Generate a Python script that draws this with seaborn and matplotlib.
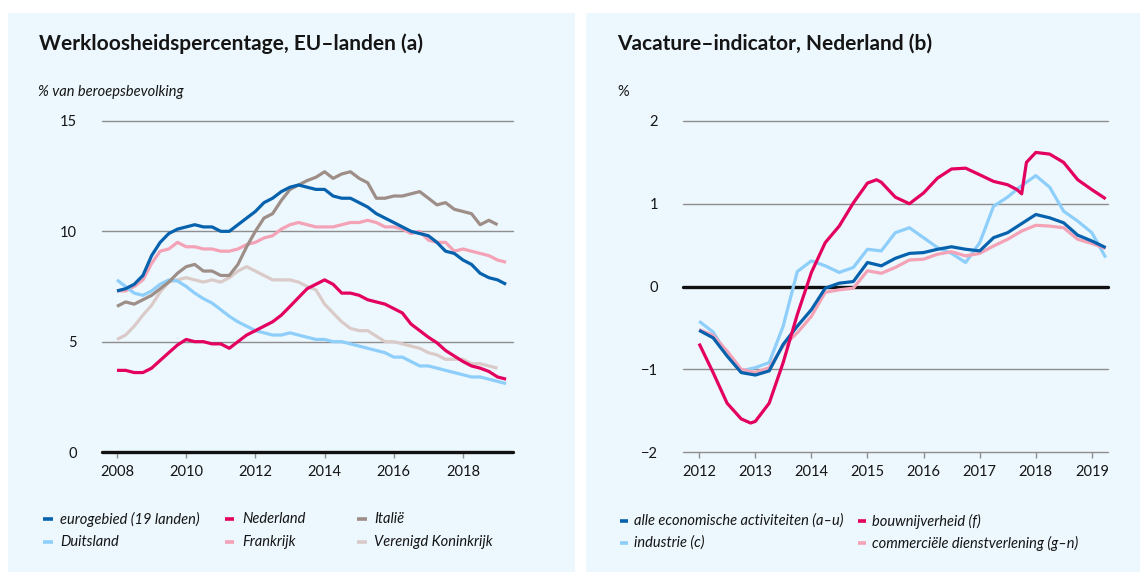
import numpy as np
import pandas as pd
import matplotlib
matplotlib.use("Agg")
import matplotlib.pyplot as plt
import matplotlib.dates as mdates
from matplotlib.lines import Line2D
from matplotlib.patches import Rectangle
import seaborn as sns

# ---------------------------------------------------------------- data
# (a) werkloosheid, % van beroepsbevolking, per kwartaal
kwartalen_eu = pd.date_range("2008-01-01", periods=46, freq="QS")
eurogebied = [7.3, 7.4, 7.6, 8.0, 8.9, 9.5, 9.9, 10.1, 10.2, 10.3, 10.2, 10.2,
              10.0, 10.0, 10.3, 10.6, 10.9, 11.3, 11.5, 11.8, 12.0, 12.1, 12.0, 11.9,
              11.9, 11.6, 11.5, 11.5, 11.3, 11.1, 10.8, 10.6, 10.4, 10.2, 10.0, 9.9,
              9.8, 9.5, 9.1, 9.0, 8.7, 8.5, 8.1, 7.9, 7.8, 7.6]
nederland = [3.7, 3.7, 3.6, 3.6, 3.8, 4.15, 4.5, 4.85, 5.1, 5.0, 5.0, 4.9,
             4.9, 4.7, 5.0, 5.3, 5.5, 5.7, 5.9, 6.2, 6.6, 7.0, 7.4, 7.6,
             7.8, 7.6, 7.2, 7.2, 7.1, 6.9, 6.8, 6.7, 6.5, 6.3, 5.8, 5.5,
             5.2, 4.95, 4.6, 4.35, 4.1, 3.9, 3.8, 3.65, 3.4, 3.3]
duitsland = [7.8, 7.5, 7.2, 7.1, 7.3, 7.6, 7.8, 7.75, 7.5, 7.2, 6.95, 6.75,
             6.45, 6.15, 5.9, 5.7, 5.5, 5.4, 5.3, 5.3, 5.4, 5.3, 5.2, 5.1,
             5.1, 5.0, 5.0, 4.9, 4.8, 4.7, 4.6, 4.5, 4.3, 4.3, 4.1, 3.9,
             3.9, 3.8, 3.7, 3.6, 3.5, 3.4, 3.4, 3.3, 3.2, 3.1]
frankrijk = [7.3, 7.3, 7.5, 7.8, 8.55, 9.1, 9.2, 9.5, 9.3, 9.3, 9.2, 9.2,
             9.1, 9.1, 9.2, 9.4, 9.5, 9.7, 9.8, 10.1, 10.3, 10.4, 10.3, 10.2,
             10.2, 10.2, 10.3, 10.4, 10.4, 10.5, 10.4, 10.2, 10.2, 10.1, 9.9, 10.0,
             9.6, 9.5, 9.5, 9.1, 9.2, 9.1, 9.0, 8.9, 8.7, 8.6]
italie = [6.6, 6.8, 6.7, 6.9, 7.1, 7.4, 7.7, 8.1, 8.4, 8.5, 8.2, 8.2,
          8.0, 8.0, 8.5, 9.3, 10.0, 10.6, 10.8, 11.4, 11.9, 12.1, 12.3, 12.45,
          12.7, 12.4, 12.6, 12.7, 12.4, 12.2, 11.5, 11.5, 11.6, 11.6, 11.7, 11.8,
          11.5, 11.2, 11.3, 11.0, 10.9, 10.8, 10.3, 10.5, 10.3]
verenigd_koninkrijk = [5.1, 5.3, 5.7, 6.2, 6.65, 7.25, 7.7, 7.8, 7.9, 7.8, 7.7, 7.8,
                       7.7, 7.9, 8.2, 8.4, 8.2, 8.0, 7.8, 7.8, 7.8, 7.7, 7.5, 7.35,
                       6.7, 6.3, 5.9, 5.6, 5.5, 5.5, 5.25, 5.0, 5.0, 4.9, 4.8, 4.7,
                       4.5, 4.4, 4.2, 4.2, 4.2, 4.0, 4.0, 3.9, 3.8]

# (b) vacature-indicator, %, per kwartaal
kwartalen_nl = pd.date_range("2012-01-01", periods=30, freq="QS")
alle_activiteiten = [-0.53, -0.62, -0.84, -1.04, -1.07, -1.02, -0.70, -0.48, -0.28, -0.02,
                     0.04, 0.06, 0.29, 0.25, 0.34, 0.40, 0.41, 0.45, 0.48, 0.45,
                     0.43, 0.59, 0.65, 0.76, 0.87, 0.83, 0.77, 0.62, 0.55, 0.47]
industrie = [-0.42, -0.55, -0.82, -1.02, -0.98, -0.92, -0.48, 0.18, 0.31, 0.25,
             0.17, 0.23, 0.45, 0.43, 0.65, 0.71, 0.59, 0.47, 0.40, 0.29,
             0.53, 0.97, 1.08, 1.22, 1.34, 1.20, 0.91, 0.79, 0.65, 0.35]
commerciele_dienstverlening = [-0.52, -0.59, -0.78, -1.00, -1.04, -0.98, -0.72, -0.56, -0.36, -0.07,
                               -0.04, -0.02, 0.19, 0.16, 0.23, 0.32, 0.33, 0.39, 0.42, 0.37,
                               0.40, 0.49, 0.57, 0.67, 0.74, 0.73, 0.71, 0.57, 0.52, 0.46]
bouw_maanden = pd.to_datetime([
    "2012-01-01", "2012-04-01", "2012-07-01", "2012-10-01", "2012-12-01", "2013-01-01",
    "2013-04-01", "2013-07-01", "2013-10-01", "2014-01-01", "2014-04-01", "2014-07-01",
    "2014-10-01", "2015-01-01", "2015-03-01", "2015-04-01", "2015-07-01", "2015-10-01",
    "2016-01-01", "2016-04-01", "2016-07-01", "2016-10-01", "2017-01-01", "2017-04-01",
    "2017-07-01", "2017-09-01", "2017-10-01", "2017-11-01", "2018-01-01", "2018-04-01",
    "2018-07-01", "2018-10-01", "2019-01-01", "2019-04-01"])
bouwnijverheid = [-0.69, -1.04, -1.41, -1.60, -1.65, -1.63,
                  -1.41, -0.92, -0.34, 0.17, 0.53, 0.73,
                  1.01, 1.25, 1.29, 1.26, 1.08, 1.00,
                  1.13, 1.31, 1.42, 1.43, 1.35, 1.27,
                  1.23, 1.17, 1.12, 1.50, 1.62, 1.60,
                  1.50, 1.29, 1.17, 1.06]

# ---------------------------------------------------------------- styling
sns.set_theme(style="white")
plt.rcParams["font.family"] = ["Lato", "DejaVu Sans"]

W, H = 1140, 572
PANEL = "#edf7fe"
TEXT = "#151515"
GRID = "#8e8e8e"

kleuren_eu = {
    "Verenigd Koninkrijk": "#dacbc8",
    "Frankrijk": "#f4a2b6",
    "Duitsland": "#8dcffa",
    "Italië": "#9e8e88",
    "Nederland": "#e3005f",
    "eurogebied (19 landen)": "#0762ae",
}
kleuren_nl = {
    "industrie (c)": "#8dcffa",
    "commerciële dienstverlening (g–n)": "#f4a2b6",
    "alle economische activiteiten (a–u)": "#0762ae",
    "bouwnijverheid (f)": "#e3005f",
}

reeksen_eu = {
    "eurogebied (19 landen)": eurogebied,
    "Nederland": nederland,
    "Duitsland": duitsland,
    "Frankrijk": frankrijk,
    "Italië": italie,
    "Verenigd Koninkrijk": verenigd_koninkrijk,
}
df_eu = pd.concat(
    [pd.DataFrame({"datum": kwartalen_eu[:len(v)], "waarde": v, "reeks": k})
     for k, v in reeksen_eu.items()], ignore_index=True)

df_nl = pd.concat([
    pd.DataFrame({"datum": kwartalen_nl, "waarde": alle_activiteiten,
                  "reeks": "alle economische activiteiten (a–u)"}),
    pd.DataFrame({"datum": kwartalen_nl, "waarde": industrie,
                  "reeks": "industrie (c)"}),
    pd.DataFrame({"datum": kwartalen_nl, "waarde": commerciele_dienstverlening,
                  "reeks": "commerciële dienstverlening (g–n)"}),
    pd.DataFrame({"datum": bouw_maanden, "waarde": bouwnijverheid,
                  "reeks": "bouwnijverheid (f)"}),
], ignore_index=True)


def fx(x):
    return x / W


def fy(y):
    return 1 - y / H


fig = plt.figure(figsize=(W / 100, H / 100), dpi=100)
fig.patch.set_facecolor("white")
for x0, x1 in [(8, 575), (586, 1140)]:
    fig.patches.append(Rectangle((fx(x0), 0), fx(x1) - fx(x0), fy(13),
                                 transform=fig.transFigure, facecolor=PANEL,
                                 edgecolor="none", zorder=-10))

ax1 = fig.add_axes([fx(102), fy(452), fx(513) - fx(102), fy(121) - fy(452)])
ax2 = fig.add_axes([fx(683), fy(452), fx(1108) - fx(683), fy(121) - fy(452)])
for ax in (ax1, ax2):
    ax.set_zorder(5)


def style_axes(ax, yticks, xticks, xlim):
    ax.set_facecolor("none")
    for s in ax.spines.values():
        s.set_visible(False)
    ax.set_ylim(yticks[0], yticks[-1])
    ax.set_yticks(yticks)
    for t in yticks:
        if t == 0:
            ax.axhline(t, color="#111111", lw=2.4, zorder=1.5, clip_on=False)
        else:
            ax.axhline(t, color=GRID, lw=1.0, zorder=1, clip_on=False)
    ax.set_xlim(pd.Timestamp(xlim[0]), pd.Timestamp(xlim[1]))
    ax.set_xticks(pd.to_datetime([f"{y}-01-01" for y in xticks]))
    ax.xaxis.set_major_formatter(mdates.DateFormatter("%Y"))
    ax.tick_params(axis="y", length=0, pad=18, labelsize=10.5, labelcolor=TEXT)
    ax.tick_params(axis="x", length=4, width=1, color=GRID, direction="out",
                   pad=5, labelsize=10.5, labelcolor=TEXT, bottom=True)
    ax.set_yticklabels([str(t).replace("-", "\u2212") for t in yticks])
    ax.set_xlabel("")
    ax.set_ylabel("")


sns.lineplot(data=df_eu, x="datum", y="waarde", hue="reeks",
             hue_order=list(kleuren_eu), palette=kleuren_eu, estimator=None,
             legend=False, ax=ax1, linewidth=2.3, solid_joinstyle="round",
             solid_capstyle="butt", zorder=2)
sns.lineplot(data=df_nl, x="datum", y="waarde", hue="reeks",
             hue_order=list(kleuren_nl), palette=kleuren_nl, estimator=None,
             legend=False, ax=ax2, linewidth=2.3, solid_joinstyle="round",
             solid_capstyle="butt", zorder=2)

style_axes(ax1, [0, 5, 10, 15], range(2008, 2019, 2),
           ("2007-07-27", "2019-06-13"))
style_axes(ax2, [-2, -1, 0, 1, 2], range(2012, 2020),
           ("2011-09-18", "2019-04-16"))

# titles
fig.text(fx(39), fy(44), "Werkloosheidspercentage, EU–landen (a)",
         fontsize=15, fontweight="bold", color=TEXT, va="center", ha="left")
fig.text(fx(38), fy(92), "% van beroepsbevolking", fontsize=10.5,
         style="italic", color=TEXT, va="center", ha="left")
fig.text(fx(617), fy(44), "Vacature–indicator, Nederland (b)",
         fontsize=15, fontweight="bold", color=TEXT, va="center", ha="left")
fig.text(fx(617), fy(92), "%", fontsize=10.5, color=TEXT, va="center", ha="left")


def legend_entry(xh0, xh1, xt, y, label, color):
    fig.add_artist(Line2D([fx(xh0), fx(xh1)], [fy(y), fy(y)], color=color,
                          lw=2.6, solid_capstyle="butt",
                          transform=fig.transFigure))
    fig.text(fx(xt), fy(y), label, fontsize=10.5, style="italic",
             color=TEXT, va="center", ha="left")


eu_legenda = [
    ((43, 53, 60, 519), "eurogebied (19 landen)"),
    ((43, 53, 60, 542), "Duitsland"),
    ((225, 234, 242, 519), "Nederland"),
    ((225, 234, 242, 542), "Frankrijk"),
    ((357, 367, 374, 519), "Italië"),
    ((357, 367, 374, 542), "Verenigd Koninkrijk"),
]
for (a, b, c, y), lab in eu_legenda:
    legend_entry(a, b, c, y, lab, kleuren_eu[lab])

nl_legenda = [
    ((620, 628, 634, 521), "alle economische activiteiten (a–u)"),
    ((620, 628, 634, 543), "industrie (c)"),
    ((858, 866, 872, 521), "bouwnijverheid (f)"),
    ((858, 866, 872, 543), "commerciële dienstverlening (g–n)"),
]
for (a, b, c, y), lab in nl_legenda:
    legend_entry(a, b, c, y, lab, kleuren_nl[lab])

fig.savefig("out.png", dpi=100, facecolor="white")
